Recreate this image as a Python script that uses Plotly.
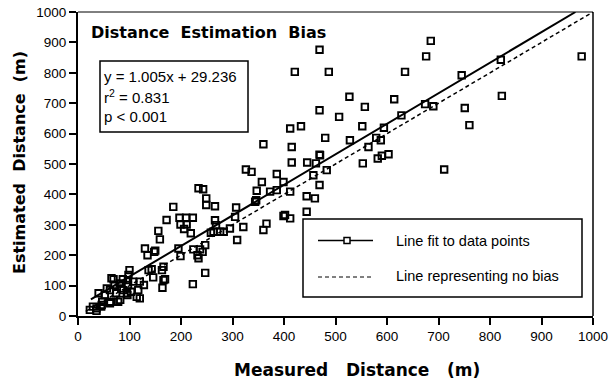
import plotly.graph_objects as go

# Measured (x) and estimated (y) distances, metres
measured = [23, 29, 36, 36, 45, 47, 40, 52, 56, 62, 65, 63, 62, 78, 74, 81, 84, 96, 97, 100,
            107, 103, 120, 117, 97, 87, 71, 98, 120, 128, 114, 69, 88, 95, 82, 46,
            130, 135, 150, 137, 143, 146, 163, 169, 164, 156, 159, 172, 185, 197, 210, 223,
            199, 211, 219, 206, 195, 199, 224, 237, 247, 232, 234, 242, 223, 247, 234, 243,
            249, 249, 166, 148, 166,
            266, 266, 268, 263, 276, 283, 295, 258, 307, 305, 309, 321, 346, 347, 344, 337,
            326, 360, 366, 360,
            357, 373, 386, 386, 399, 402, 412, 412, 415, 415, 412, 433, 421, 444, 445, 444, 399,
            460, 457, 462, 469, 469, 469, 469, 470, 480, 483, 487, 507, 527, 528, 552, 553,
            557, 564, 579, 582, 588, 590, 594, 603,
            614, 628, 635, 674, 676, 685, 690, 711, 745, 751, 760, 821, 823, 978]
estimated = [20, 31, 25, 17, 31, 47, 75, 69, 91, 85, 124, 47, 42, 47, 75, 107, 91, 69, 102, 151,
             113, 80, 58, 85, 118, 121, 102, 135, 113, 102, 63, 121, 85, 75, 53, 36,
             222, 200, 215, 151, 154, 127, 151, 121, 93, 280, 252, 316, 359, 323, 323, 323,
             301, 301, 272, 286, 222, 197, 219, 219, 233, 200, 190, 211, 105, 142, 420, 417,
             387, 365, 162, 211, 118,
             361, 315, 299, 277, 277, 277, 288, 274, 357, 326, 250, 293, 381, 412, 376, 474,
             482, 283, 304, 565,
             441, 409, 414, 467, 441, 332, 321, 409, 505, 556, 617, 624, 803, 394, 505, 343, 329,
             387, 463, 502, 431, 531, 677, 876, 529, 586, 480, 803, 655, 721, 578, 624, 502,
             688, 556, 586, 518, 578, 527, 619, 532,
             713, 660, 803, 697, 854, 905, 690, 482, 792, 684, 628, 843, 724, 854]

# Regression coefficients shown on the chart
slope = 1.005
intercept = 29.236
fit_x = [25, (1000 - intercept) / slope]
fit_y = [slope * v + intercept for v in fit_x]
nobias_x = [15, 1000]
nobias_y = [15, 1000]

tick_vals = list(range(0, 1001, 100))

FONT = "Liberation Sans"
BOLD = "DejaVu Sans"

fig = go.Figure()
fig.add_trace(go.Scatter(x=measured, y=estimated, mode="markers",
                         marker=dict(symbol="square-open", size=6.5, color="black",
                                     line=dict(width=1.9)),
                         showlegend=False, cliponaxis=False))
fig.add_trace(go.Scatter(x=fit_x, y=fit_y, mode="lines",
                         line=dict(color="black", width=2), showlegend=False))
fig.add_trace(go.Scatter(x=nobias_x, y=nobias_y, mode="lines",
                         line=dict(color="black", width=1.5, dash="4px,3px"),
                         showlegend=False))

axis_common = dict(range=[0, 1000], tickvals=tick_vals, ticks="outside", ticklen=7,
                   tickwidth=1.5, tickcolor="black", showline=True, linecolor="black",
                   linewidth=2, showgrid=False, zeroline=False, automargin=False,
                   tickfont=dict(family=FONT, size=13.5, color="black"))
fig.update_xaxes(**axis_common)
fig.update_yaxes(**axis_common)

shapes = [
    # top and right frame lines
    dict(type="line", xref="paper", yref="paper", x0=0, x1=1, y0=1, y1=1,
         line=dict(color="black", width=1)),
    dict(type="line", xref="paper", yref="paper", x0=1, x1=1, y0=0, y1=1,
         line=dict(color="black", width=1.5)),
    # stats box
    dict(type="rect", xref="paper", yref="paper",
         x0=(100 - 78) / 515, x1=(248 - 78) / 515,
         y0=(316 - 132) / 304, y1=(316 - 61) / 304,
         line=dict(color="black", width=1.5), fillcolor="rgba(0,0,0,0)"),
    # legend box
    dict(type="rect", xref="paper", yref="paper",
         x0=(303 - 78) / 515, x1=(582 - 78) / 515,
         y0=(316 - 297) / 304, y1=(316 - 219) / 304,
         line=dict(color="black", width=1.5), fillcolor="white", layer="above"),
    dict(type="line", xref="paper", yref="paper",
         x0=(318 - 78) / 515, x1=(373 - 78) / 515,
         y0=(316 - 240.5) / 304, y1=(316 - 240.5) / 304,
         line=dict(color="black", width=1.5), layer="above"),
    dict(type="rect", xref="paper", yref="paper",
         x0=(344 - 78) / 515, x1=(350 - 78) / 515,
         y0=(316 - 243.5) / 304, y1=(316 - 237.5) / 304,
         line=dict(color="black", width=1.5), fillcolor="white", layer="above"),
    dict(type="line", xref="paper", yref="paper",
         x0=(318 - 78) / 515, x1=(373 - 78) / 515,
         y0=(316 - 277) / 304, y1=(316 - 277) / 304,
         line=dict(color="black", width=1, dash="4px,3px"), layer="above"),
]

NB = "\u00a0"
annotations = [
    dict(text="<b>Distance" + NB * 2 + "Estimation" + NB * 2 + "Bias</b>",
         xref="paper", yref="paper", x=(89 - 78) / 515, y=(316 - 33) / 304,
         xanchor="left", yanchor="middle", showarrow=False,
         font=dict(family=BOLD, size=16, color="black")),
    dict(text="y = 1.005x + 29.236", xref="paper", yref="paper",
         x=(102 - 78) / 515, y=(316 - 76.5) / 304, xanchor="left", yanchor="middle",
         showarrow=False, font=dict(family=FONT, size=15, color="black")),
    dict(text="r<sup>2</sup> = 0.831", xref="paper", yref="paper",
         x=(102 - 78) / 515, y=(316 - 97) / 304, xanchor="left", yanchor="middle",
         showarrow=False, font=dict(family=FONT, size=15, color="black")),
    dict(text="p < 0.001", xref="paper", yref="paper",
         x=(102 - 78) / 515, y=(316 - 116.5) / 304, xanchor="left", yanchor="middle",
         showarrow=False, font=dict(family=FONT, size=15, color="black")),
    dict(text="Line fit to data points", xref="paper", yref="paper",
         x=(394 - 78) / 515, y=(316 - 240.5) / 304, xanchor="left", yanchor="middle",
         showarrow=False, font=dict(family=FONT, size=14.5, color="black")),
    dict(text="Line representing no bias", xref="paper", yref="paper",
         x=(394 - 78) / 515, y=(316 - 276) / 304, xanchor="left", yanchor="middle",
         showarrow=False, font=dict(family=FONT, size=14.5, color="black")),
    dict(text="<b>Measured" + NB * 3 + "Distance" + NB * 3 + "(m)</b>",
         xref="paper", yref="paper", x=(357 - 78) / 515, y=(316 - 370) / 304,
         xanchor="center", yanchor="middle", showarrow=False,
         font=dict(family=BOLD, size=17, color="black")),
    dict(text="<b>Estimated" + NB * 2 + "Distance" + NB * 2 + "(m)</b>",
         xref="paper", yref="paper", x=(19 - 78) / 515, y=(316 - 163) / 304,
         xanchor="center", yanchor="middle", showarrow=False, textangle=-90,
         font=dict(family=BOLD, size=16, color="black")),
]

fig.update_layout(width=610, height=381, margin=dict(l=78, r=17, t=12, b=65),
                  paper_bgcolor="white", plot_bgcolor="white",
                  shapes=shapes, annotations=annotations, showlegend=False)

fig.write_html("out.html")
